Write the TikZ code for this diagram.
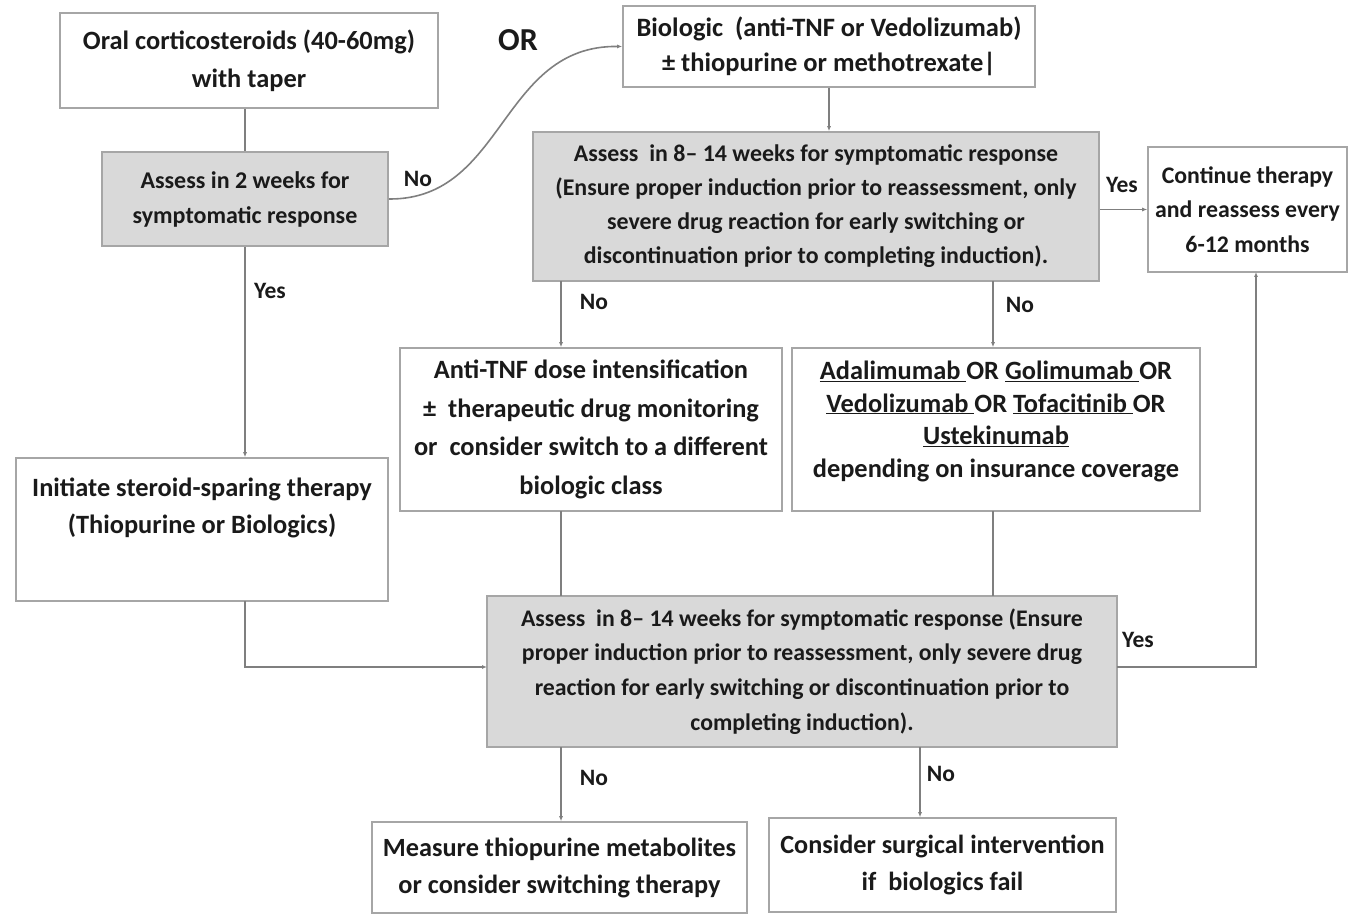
\documentclass[tikz,border=0pt]{standalone}
\usepackage{fontspec}
\setmainfont{Carlito}
\usetikzlibrary{arrows.meta}
\definecolor{boxline}{HTML}{A6A6A6}
\definecolor{conline}{HTML}{7F7F7F}
\definecolor{grayfill}{HTML}{D9D9D9}
\definecolor{txt}{HTML}{1A1A1A}
\tikzset{
  box/.style={draw=boxline, line width=1.6pt, fill=white, align=center, inner sep=2pt, text=txt,
    font=\fontsize{26.4}{35}\selectfont\bfseries},
  graybox/.style={box, fill=grayfill},
  conn/.style={draw=conline, line width=1.6pt},
  arr/.style={conn, -{Latex[length=5pt,width=4pt]}},
  lbl/.style={text=txt, font=\fontsize{23.5}{26}\selectfont\bfseries, inner sep=0pt}
}
\begin{document}
\begin{tikzpicture}[x=1pt,y=-1pt]
\useasboundingbox (0,0) rectangle (1349,917);
% boxes
\node[box, minimum width=378pt, minimum height=95pt, font=\fontsize{26.4}{38}\selectfont\bfseries] (oral) at (249,60.5)
  {Oral corticosteroids (40-60mg)\\with taper};
\node[graybox, minimum width=286pt, minimum height=94pt, font=\fontsize{24}{35}\selectfont\bfseries] (as2) at (245,199)
  {Assess in 2 weeks for\\symptomatic response};
\node[box, minimum width=412pt, minimum height=81pt, font=\fontsize{26.5}{35}\selectfont\bfseries] (bio) at (829,46.5)
  {Biologic\ \ (anti-TNF or Vedolizumab)\\± thiopurine or methotrexate|};
\node[graybox, minimum width=566pt, minimum height=149pt, font=\fontsize{23.9}{34}\selectfont\bfseries] (as8) at (816,206.5)
  {Assess\ \ in 8– 14 weeks for symptomatic response\\(Ensure proper induction prior to reassessment, only\\severe drug reaction for early switching or\\discontinuation prior to completing induction).};
\node[box, minimum width=199pt, minimum height=125pt, font=\fontsize{23.8}{34.5}\selectfont\bfseries] (cont) at (1247.5,209.5)
  {Continue therapy\\and reassess every\\6-12 months};
\node[box, minimum width=382pt, minimum height=163pt, font=\fontsize{26.4}{38.5}\selectfont\bfseries] (anti) at (591,429.5)
  {Anti-TNF dose intensification\\±\ \ therapeutic drug monitoring\\or\ \ consider switch to a different\\biologic class};
\node[box, minimum width=408pt, minimum height=163pt, text depth=21pt, font=\fontsize{26.4}{32.5}\selectfont\bfseries] (ada) at (996,429.5)
  {\underline{Adalimumab }OR \underline{Golimumab }OR\\\underline{Vedolizumab }OR \underline{Tofacitinib }OR\\\underline{Ustekinumab}\\depending on insurance coverage};
\node[box, minimum width=372pt, minimum height=143pt, font=\fontsize{26.4}{37}\selectfont\bfseries] (init) at (202,529.5)
  {Initiate steroid-sparing therapy\\(Thiopurine or Biologics)\\\strut};
\node[graybox, minimum width=630pt, minimum height=151pt, font=\fontsize{23.8}{34.7}\selectfont\bfseries] (asb) at (802,671.5)
  {Assess\ \ in 8– 14 weeks for symptomatic response (Ensure\\proper induction prior to reassessment, only severe drug\\reaction for early switching or discontinuation prior to\\completing induction).};
\node[box, minimum width=375pt, minimum height=91pt, font=\fontsize{26.3}{37}\selectfont\bfseries] (meas) at (559.5,867.5)
  {Measure thiopurine metabolites\\or consider switching therapy};
\node[box, minimum width=347pt, minimum height=94pt, font=\fontsize{26.2}{37}\selectfont\bfseries] (surg) at (942.5,865)
  {Consider surgical intervention\\if\ \ biologics fail};
% coordinates
\coordinate (as8a) at (561,281);
\coordinate (as8b) at (993,281);
\coordinate (antiB) at (561,511);
\coordinate (adaB) at (993,511);
\coordinate (asbA) at (561,596);
\coordinate (asbB) at (993,596);
\coordinate (asbC) at (561,747);
\coordinate (asbD) at (920,747);
\coordinate (initB) at (245,601);
\coordinate (asbL) at (487,667);
\coordinate (asbR) at (1117,667);
\coordinate (contB) at (1256,272);
% connectors
\draw[conn] (oral.south -| as2.north) -- (as2.north);
\draw[arr] (as2.south) -- (as2.south |- init.north);
\draw[arr] (as2.east) .. controls (505,200) and (500,45) .. (bio.west);
\draw[arr] (bio.south) -- (bio.south |- as8.north);
\draw[arr] (as8.east |- cont.west) -- (cont.west);
\draw[arr] (as8a) -- (as8a |- anti.north);
\draw[arr] (as8b) -- (as8b |- ada.north);
\draw[conn] (antiB) -- (asbA);
\draw[conn] (adaB) -- (asbB);
\draw[arr] (initB) |- (asbL);
\draw[arr] (asbR) -| (contB);
\draw[arr] (asbC) -- (asbC |- meas.north);
\draw[arr] (asbD) -- (asbD |- surg.north);
% labels
\node[lbl] (lOR) at (518,40) {\fontsize{32}{34}\selectfont OR};
\node[lbl] (lNo1) at (418,179) {No};
\node[lbl] (lYes1) at (270,291) {Yes};
\node[lbl] (lYes2) at (1122,185) {Yes};
\node[lbl] (lNo2) at (594,302) {No};
\node[lbl] (lNo3) at (1020,305) {No};
\node[lbl] (lYes3) at (1138,640) {Yes};
\node[lbl] (lNo4) at (594,778) {No};
\node[lbl] (lNo5) at (941,774) {No};
\end{tikzpicture}
\end{document}
